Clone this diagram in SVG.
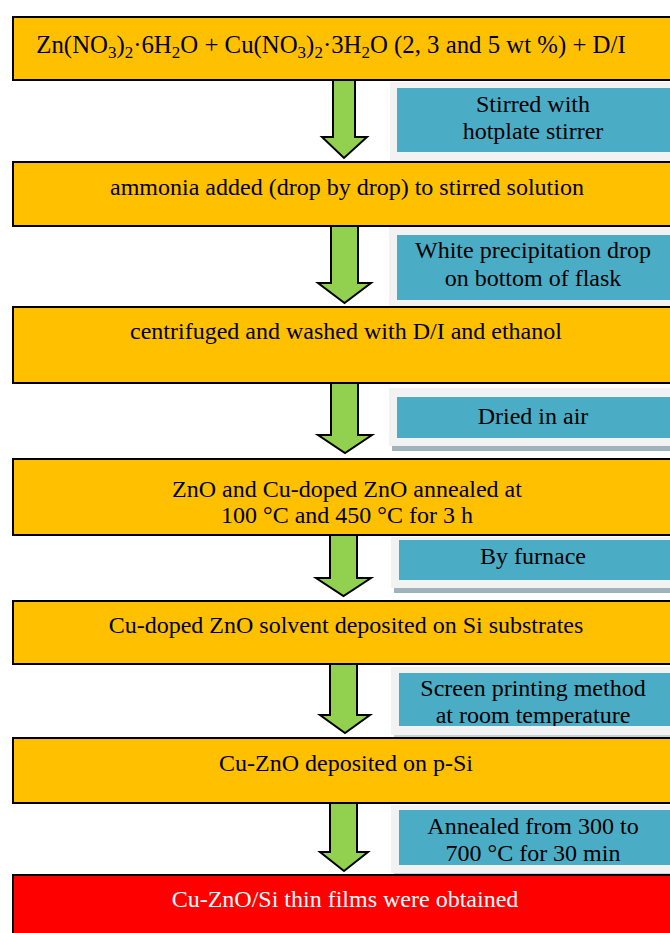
<svg xmlns="http://www.w3.org/2000/svg" width="670" height="933" viewBox="0 0 670 933">
<defs>
<style>
.step{fill:#FFC000;stroke:#000;stroke-width:2}
.final{fill:#FF0000;stroke:#000;stroke-width:2}
.frame{fill:#F2F2F2}
.note{fill:#4BACC6}
.stripe{fill:#9FB3BC}
.arrow{fill:#92D050;stroke:#000;stroke-width:2;stroke-linejoin:miter}
text{font-family:"Liberation Serif","Times New Roman",serif;font-size:24px;text-anchor:middle;fill:#000}
.w{fill:#fff}
.big{font-size:24.8px}
.sub{font-size:17px}
</style>
<clipPath id="c5"><rect x="399" y="673" width="280" height="53"/></clipPath>
</defs>
<rect width="670" height="933" fill="#fff"/>

<g id="connectors">
<polygon class="arrow" points="333,80 355,80 355,137 367,137 344,158 322,137 333,137"/>
<polygon class="arrow" points="331,226 358,226 358,283 371,283 344.5,303 318,283 331,283"/>
<polygon class="arrow" points="331,383 358,383 358,435 372,435 345,453 318,435 331,435"/>
<polygon class="arrow" points="330,535 357,535 357,578 371,578 343.5,596 316,578 330,578"/>
<polygon class="arrow" points="330,664 357,664 357,715 370,715 345,733 320,715 330,715"/>
<polygon class="arrow" points="330,803 357,803 357,852 368,852 344,871 320,852 330,852"/>
</g>

<g id="note1">
<rect class="frame" x="390" y="82" width="290" height="79"/>
<rect class="note" x="397" y="88" width="283" height="64"/>
<text x="533" y="112">Stirred with</text>
<text x="533" y="139">hotplate stirrer</text>
</g>
<g id="note2">
<rect class="frame" x="389" y="227" width="291" height="79"/>
<rect class="note" x="397" y="235" width="283" height="65"/>
<text x="533" y="258">White precipitation drop</text>
<text x="533" y="286">on bottom of flask</text>
</g>
<g id="note3">
<rect class="frame" x="389" y="388" width="291" height="58"/>
<rect class="stripe" x="392" y="446" width="288" height="5"/>
<rect class="note" x="397" y="397" width="283" height="41"/>
<text x="533" y="424">Dried in air</text>
</g>
<g id="note4">
<rect class="frame" x="391" y="537" width="289" height="51"/>
<rect class="stripe" x="394" y="588" width="286" height="5"/>
<rect class="note" x="399" y="540" width="281" height="40"/>
<text x="533" y="564">By furnace</text>
</g>
<g id="note5">
<rect class="frame" x="391" y="667" width="289" height="68"/>
<rect class="stripe" x="394" y="735" width="286" height="2" opacity="0.6"/>
<rect class="note" x="399" y="673" width="281" height="53"/>
<g clip-path="url(#c5)">
<text x="533" y="696">Screen printing method</text>
<text x="533" y="723">at room temperature</text>
</g>
</g>
<g id="note6">
<rect class="frame" x="391" y="805" width="289" height="68"/>
<rect class="stripe" x="394" y="873" width="286" height="2" opacity="0.6"/>
<rect class="note" x="399" y="810" width="281" height="55"/>
<text x="533" y="834">Annealed from 300 to</text>
<text x="533" y="861">700 °C for 30 min</text>
</g>

<g id="step1">
<rect class="step" x="13" y="17" width="680" height="63"/>
<text class="big" x="331" y="53">Zn(NO<tspan class="sub" dy="5">3</tspan><tspan dy="-5">)</tspan><tspan class="sub" dy="5">2</tspan><tspan dy="-5">·6H</tspan><tspan class="sub" dy="5">2</tspan><tspan dy="-5">O + Cu(NO</tspan><tspan class="sub" dy="5">3</tspan><tspan dy="-5">)</tspan><tspan class="sub" dy="5">2</tspan><tspan dy="-5">·3H</tspan><tspan class="sub" dy="5">2</tspan><tspan dy="-5">O (2, 3 and 5 wt %) + D/I</tspan></text>
</g>
<g id="step2">
<rect class="step" x="13" y="162" width="680" height="64"/>
<text x="347" y="195">ammonia added (drop by drop) to stirred solution</text>
</g>
<g id="step3">
<rect class="step" x="13" y="307" width="680" height="76"/>
<text x="346" y="339">centrifuged and washed with D/I and ethanol</text>
</g>
<g id="step4">
<rect class="step" x="13" y="459" width="680" height="76"/>
<text x="347" y="497">ZnO and Cu-doped ZnO annealed at</text>
<text x="347" y="523">100 °C and 450 °C for 3 h</text>
</g>
<g id="step5">
<rect class="step" x="13" y="601" width="680" height="63"/>
<text x="346" y="633">Cu-doped ZnO solvent deposited on Si substrates</text>
</g>
<g id="step6">
<rect class="step" x="13" y="738" width="680" height="65"/>
<text x="346" y="771">Cu-ZnO deposited on p-Si</text>
</g>
<g id="step7">
<rect class="final" x="13" y="875" width="680" height="70"/>
<text class="w" x="345" y="907">Cu-ZnO/Si thin films were obtained</text>
</g>
</svg>
